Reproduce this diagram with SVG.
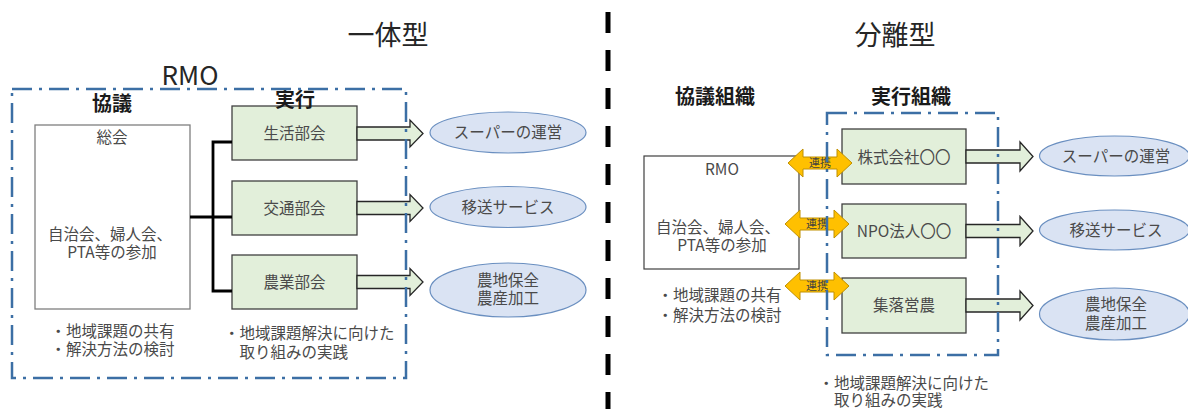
<svg xmlns="http://www.w3.org/2000/svg" width="1188" height="409" viewBox="0 0 1188 409">
<style>
text{font-family:"Noto Sans CJK JP","Noto Sans",sans-serif;fill:#4a4a4a;font-size:15.5px}
.mid{text-anchor:middle}
.title{font-size:27px;fill:#262626}
.head{font-size:20px;font-weight:bold;fill:#1a1a1a}
.green{fill:#E2EFDA;stroke:#404040;stroke-width:1.3}
.ell{fill:#DAE3F3;stroke:#6A8FC0;stroke-width:1.2}
.wbox{fill:#fff;stroke:#7F7F7F;stroke-width:1.3}
.arrow{fill:#E2EFDA;stroke:#262626;stroke-width:1.3;stroke-linejoin:miter}
.dbl{fill:#FFC000;stroke:#C09000;stroke-width:1}
.frame{fill:none;stroke:#3C6FA5;stroke-width:2.5;stroke-dasharray:20 7 3 7}
.link{fill:none;stroke:#000;stroke-width:2.8}
.small{font-size:11px;fill:#404040}
</style>

<!-- titles -->
<text class="title mid" x="388" y="45">一体型</text>
<text class="title mid" x="895" y="45">分離型</text>
<line x1="608" y1="12" x2="608" y2="409" stroke="#000" stroke-width="5" stroke-dasharray="21 17"/>

<!-- left: integrated -->
<g id="rmo-left-label">
<text class="mid" x="190" y="85" style="font-size:26px;fill:#262626">RMO</text>
<text class="head mid" x="112" y="111">協議</text>
</g>
<g id="soukai">
<rect class="wbox" x="35" y="125" width="155" height="184"/>
<text class="mid" x="112" y="143">総会</text>
<text class="mid" x="110" y="240">自治会、婦人会、</text>
<text class="mid" x="112" y="258">PTA等の参加</text>
</g>
<g id="bukai-1">
<rect class="green" x="232" y="106" width="125" height="54"/>
<text class="mid" x="294.5" y="139">生活部会</text>
</g>
<g id="bukai-2">
<rect class="green" x="232" y="181" width="125" height="54"/>
<text class="mid" x="294.5" y="213.5">交通部会</text>
</g>
<g id="bukai-3">
<rect class="green" x="232" y="255" width="125" height="54"/>
<text class="mid" x="294.5" y="287.5">農業部会</text>
</g>
<g id="jikkou-label">
<text class="head mid" x="295" y="107">実行</text>
</g>
<g id="left-out-1">
<ellipse class="ell" cx="508" cy="132.5" rx="78" ry="20.5"/>
<text class="mid" x="508" y="138">スーパーの運営</text>
</g>
<g id="left-out-2">
<ellipse class="ell" cx="508" cy="207" rx="78" ry="20.5"/>
<text class="mid" x="508" y="212.5">移送サービス</text>
</g>
<g id="left-out-3">
<ellipse class="ell" cx="508" cy="290" rx="78" ry="27"/>
<text class="mid" x="508" y="285.5">農地保全</text>
<text class="mid" x="508" y="303.5">農産加工</text>
</g>
<g id="left-notes">
<text x="50.5" y="337">・地域課題の共有</text>
<text x="50.5" y="355">・解決方法の検討</text>
<text x="224" y="339">・地域課題解決に向けた</text>
<text x="239.5" y="358">取り組みの実践</text>
</g>

<!-- right: separated -->
<g id="right-labels">
<text class="head mid" x="715" y="104">協議組織</text>
<text class="head mid" x="911" y="104">実行組織</text>
</g>
<g id="rmo-right">
<rect x="644" y="156" width="155" height="113" fill="#fff" stroke="#404040" stroke-width="1.2"/>
<text class="mid" x="722" y="175">RMO</text>
<text class="mid" x="718" y="232.5">自治会、婦人会、</text>
<text class="mid" x="722" y="250.5">PTA等の参加</text>
</g>
<g id="org-1">
<rect class="green" x="842" y="129" width="124" height="55"/>
<text class="mid" x="904" y="162.5">株式会社〇〇</text>
</g>
<g id="org-2">
<rect class="green" x="842" y="204" width="124" height="54"/>
<text class="mid" x="904" y="236.5">NPO法人〇〇</text>
</g>
<g id="org-3">
<rect class="green" x="842" y="278" width="124" height="55"/>
<text class="mid" x="904" y="311">集落営農</text>
</g>
<g id="right-out-1">
<ellipse class="ell" cx="1114.5" cy="156" rx="75" ry="20"/>
<text class="mid" x="1116" y="161.5">スーパーの運営</text>
</g>
<g id="right-out-2">
<ellipse class="ell" cx="1114.5" cy="230" rx="75" ry="20"/>
<text class="mid" x="1116" y="235.5">移送サービス</text>
</g>
<g id="right-out-3">
<ellipse class="ell" cx="1114.5" cy="314" rx="75" ry="26"/>
<text class="mid" x="1116" y="309.5">農地保全</text>
<text class="mid" x="1116" y="328.5">農産加工</text>
</g>
<g id="right-notes">
<text x="657.5" y="300.5">・地域課題の共有</text>
<text x="657.5" y="320.5">・解決方法の検討</text>
<text x="818.5" y="388.5">・地域課題解決に向けた</text>
<text x="834" y="405.5">取り組みの実践</text>
</g>

<!-- connectors -->
<g id="connectors">
<polyline class="link" points="190,217 232,217"/>
<polyline class="link" points="232,142 213,142 213,291 232,291"/>
<path class="arrow" d="M357,127 H410 V120 L423,133.5 L410,147 V140 H357 Z"/>
<path class="arrow" d="M357,201.5 H410 V194.5 L423,208 L410,221.5 V214.5 H357 Z"/>
<path class="arrow" d="M357,275.5 H410 V268.5 L423,282 L410,295.5 V288.5 H357 Z"/>
<path class="arrow" d="M966,150 H1020 V142 L1033,156.5 L1020,171 V163 H966 Z"/>
<path class="arrow" d="M966,224.5 H1020 V216.5 L1033,231 L1020,245.5 V237.5 H966 Z"/>
<path class="arrow" d="M966,299 H1020 V291 L1033,305.5 L1020,320 V312 H966 Z"/>
<path class="dbl" d="M788,163 L803,149 V157 H837 V149 L852,163 L837,177 V169 H803 V177 Z"/>
<text class="small mid" x="820" y="167">連携</text>
<path class="dbl" d="M785,224 L800,210 V218 H834 V210 L849,224 L834,238 V230 H800 V238 Z"/>
<text class="small mid" x="817" y="228">連携</text>
<path class="dbl" d="M785,286 L800,272 V280 H834 V272 L849,286 L834,300 V292 H800 V300 Z"/>
<text class="small mid" x="817" y="290">連携</text>
</g>

<!-- frames -->
<g id="frame-left"><rect class="frame" x="12" y="89" width="394" height="289"/></g>
<g id="frame-right"><rect class="frame" x="827" y="113" width="171" height="242"/></g>
</svg>
